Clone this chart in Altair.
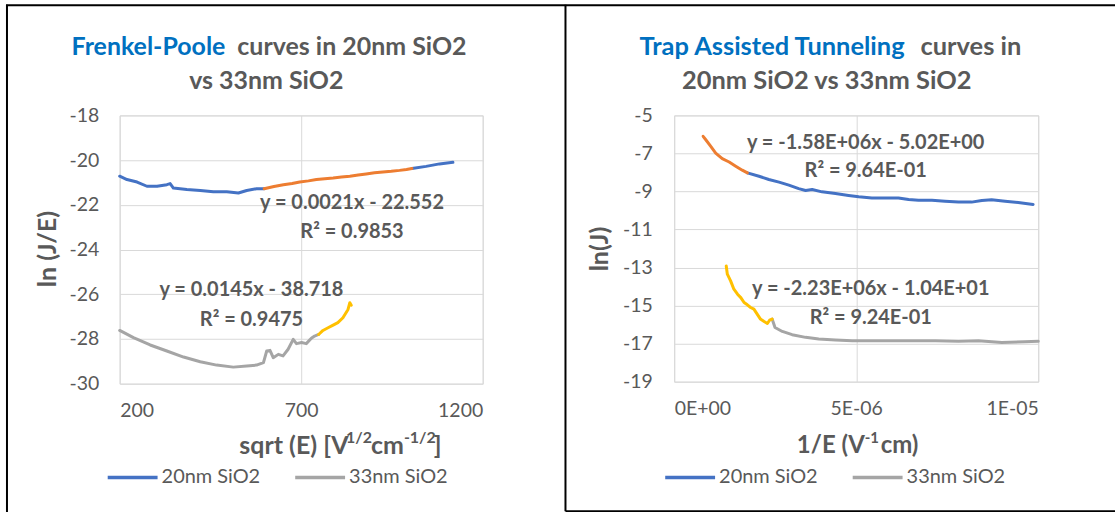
import altair as alt
import pandas as pd

FONT = "Lato"
GRAY_TEXT = "#595959"
TITLE_BLUE = "#0070C0"

SERIES = ["20nm SiO2", "33nm SiO2", "20nm fit range", "33nm fit range"]
SERIES_COLORS = ["#4472C4", "#A5A5A5", "#ED7D31", "#FFC000"]
LEGEND_ITEMS = ["20nm SiO2", "33nm SiO2"]

# ---- Frenkel-Poole panel: sqrt(E) vs ln(J/E) ----
fp20_a_x = [200, 220, 248, 275, 303, 330, 339, 348, 385, 422, 458, 495, 527, 550, 577, 598]
fp20_a_y = [-20.72, -20.87, -20.98, -21.17, -21.17, -21.10, -21.05, -21.25, -21.32, -21.36,
            -21.42, -21.42, -21.47, -21.36, -21.28, -21.28]
fp20_fit_x = [598, 625, 651, 675, 696, 720, 742, 765, 788, 811, 834, 857, 879, 902, 925, 948,
              971, 990, 1005]
fp20_fit_y = [-21.28, -21.18, -21.10, -21.05, -20.98, -20.93, -20.87, -20.83, -20.80, -20.76,
              -20.72, -20.67, -20.62, -20.57, -20.53, -20.50, -20.46, -20.42, -20.38]
fp20_b_x = [1005, 1044, 1081, 1118]
fp20_b_y = [-20.38, -20.28, -20.17, -20.10]

fp33_x = [200, 238, 284, 330, 376, 422, 467, 513, 550, 577, 596, 605, 614, 623, 637, 650, 664,
          678, 687, 701, 714, 728, 737, 748]
fp33_y = [-27.62, -27.94, -28.27, -28.54, -28.81, -29.02, -29.17, -29.26, -29.21, -29.17,
          -29.06, -28.54, -28.51, -28.84, -28.69, -28.76, -28.46, -28.02, -28.21, -28.16,
          -28.21, -27.97, -27.87, -27.80]
fp33_fit_x = [748, 760, 774, 788, 801, 815, 829, 834, 838]
fp33_fit_y = [-27.80, -27.62, -27.50, -27.38, -27.27, -27.05, -26.68, -26.38, -26.49]

fp_x_ticks = [200, 700, 1200]
fp_y_ticks = [-30, -28, -26, -24, -22, -20, -18]

fp_eq_text = ["y = 0.0021x - 22.552", "R² = 0.9853", "y = 0.0145x - 38.718", "R² = 0.9475"]
fp_eq_x = [840, 840, 563, 563]
fp_eq_y = [-21.93, -23.22, -25.81, -27.15]

# ---- Trap assisted tunneling panel: 1/E vs ln(J) ----
tat20_fit_x = [0.795e-6, 0.868e-6, 1.005e-6, 1.14e-6, 1.32e-6, 1.51e-6, 1.69e-6, 1.87e-6, 2.01e-6]
tat20_fit_y = [-6.10, -6.28, -6.63, -6.98, -7.27, -7.45, -7.67, -7.88, -8.02]
tat20_x = [2.01e-6, 2.33e-6, 2.60e-6, 2.88e-6, 3.15e-6, 3.42e-6, 3.61e-6, 3.79e-6, 4.06e-6,
           4.43e-6, 4.79e-6, 5.07e-6, 5.43e-6, 5.80e-6, 6.16e-6, 6.44e-6, 6.71e-6, 7.08e-6,
           7.44e-6, 7.81e-6, 8.17e-6, 8.45e-6, 8.72e-6, 9.09e-6, 9.45e-6, 9.86e-6]
tat20_y = [-8.02, -8.20, -8.37, -8.51, -8.67, -8.85, -8.95, -8.90, -9.02, -9.11, -9.21, -9.28,
           -9.34, -9.34, -9.34, -9.42, -9.46, -9.46, -9.51, -9.56, -9.56, -9.47, -9.44, -9.51,
           -9.58, -9.68]

tat33_fit_x = [1.43e-6, 1.46e-6, 1.55e-6, 1.64e-6, 1.74e-6, 1.83e-6, 1.92e-6, 2.01e-6, 2.10e-6,
               2.19e-6, 2.28e-6, 2.37e-6, 2.47e-6, 2.56e-6, 2.62e-6, 2.69e-6]
tat33_fit_y = [-12.92, -13.35, -13.70, -14.14, -14.40, -14.58, -14.84, -14.96, -15.10, -15.19,
               -15.45, -15.71, -15.84, -15.94, -15.77, -15.71]
tat33_x = [2.69e-6, 2.77e-6, 2.97e-6, 3.24e-6, 3.61e-6, 3.97e-6, 4.43e-6, 4.89e-6, 5.34e-6,
           5.80e-6, 6.44e-6, 7.17e-6, 7.81e-6, 8.36e-6, 9.00e-6, 9.63e-6, 10.0e-6]
tat33_y = [-15.71, -16.15, -16.36, -16.53, -16.67, -16.76, -16.81, -16.85, -16.85, -16.85,
           -16.85, -16.85, -16.88, -16.85, -16.94, -16.90, -16.88]

tat_x_ticks = [0, 5e-6, 1e-5]
tat_x_labels = ["0E+00", "5E-06", "1E-05"]
tat_y_ticks = [-19, -17, -15, -13, -11, -9, -7, -5]

tat_eq_text = ["y = -1.58E+06x - 5.02E+00", "R² = 9.64E-01",
               "y = -2.23E+06x - 1.04E+01", "R² = 9.24E-01"]
tat_eq_x = [5.26e-6, 5.26e-6, 5.40e-6, 5.40e-6]
tat_eq_y = [-6.47, -7.94, -14.12, -15.64]

# plot-area sizes (px)
FP_W, FP_H = 364, 269
TAT_W, TAT_H = 365, 267
GAP = 192  # between the two plot areas


def segments(parts):
    rows = []
    for seg, (series, xs, ys) in enumerate(parts):
        for i, (x, y) in enumerate(zip(xs, ys)):
            rows.append({"x": x, "y": y, "series": series, "seg": seg, "i": i})
    return pd.DataFrame(rows)


fp_df = segments([
    ("20nm SiO2", fp20_a_x, fp20_a_y),
    ("20nm SiO2", fp20_b_x, fp20_b_y),
    ("33nm SiO2", fp33_x, fp33_y),
    ("20nm fit range", fp20_fit_x, fp20_fit_y),
    ("33nm fit range", fp33_fit_x, fp33_fit_y),
])
tat_df = segments([
    ("20nm SiO2", tat20_x, tat20_y),
    ("33nm SiO2", tat33_x, tat33_y),
    ("20nm fit range", tat20_fit_x, tat20_fit_y),
    ("33nm fit range", tat33_fit_x, tat33_fit_y),
])

ONE = pd.DataFrame({"k": [0]})


def text_at(text, x, y, size, color=GRAY_TEXT, bold=True, align="center", angle=None):
    kw = dict(text=text, font=FONT, fontSize=size, color=color,
              fontWeight="bold" if bold else "normal", align=align, baseline="middle")
    if angle is not None:
        kw["angle"] = angle
    return alt.Chart(ONE).mark_text(**kw).encode(x=alt.value(x), y=alt.value(y))


def rule_at(x, y, x2, y2, color="black", width=2):
    return alt.Chart(ONE).mark_rule(color=color, strokeWidth=width).encode(
        x=alt.value(x), y=alt.value(y), x2=alt.value(x2), y2=alt.value(y2))


def axis(values, label_expr, padding):
    return alt.Axis(values=values, tickCount=len(values) + 4, labelExpr=label_expr, title=None,
                    grid=True, gridColor="#D9D9D9", gridWidth=1, domain=False, ticks=False,
                    tickSize=0, labelFont=FONT, labelFontSize=19.5, labelColor=GRAY_TEXT,
                    labelPadding=padding, labelOverlap=False, labelBound=False)


def panel(df, x_domain, y_domain, x_axis, y_axis, legend_x, legend_y, eq_df, extras, w, h):
    color = alt.Color(
        "series:N",
        scale=alt.Scale(domain=SERIES, range=SERIES_COLORS),
        legend=alt.Legend(values=LEGEND_ITEMS, title=None, orient="none",
                          legendX=legend_x, legendY=legend_y, direction="horizontal",
                          symbolType="stroke", symbolSize=2500, symbolStrokeWidth=3.5,
                          labelFont=FONT, labelFontSize=20, labelColor=GRAY_TEXT,
                          labelOffset=2, columnPadding=28, padding=0, symbolOffset=0),
    )
    x_enc = alt.X("x:Q", scale=alt.Scale(domain=x_domain, nice=False, zero=False), axis=x_axis)
    y_enc = alt.Y("y:Q", scale=alt.Scale(domain=y_domain, nice=False, zero=False), axis=y_axis)
    lines = alt.Chart(df).mark_line(strokeWidth=3, strokeJoin="round", strokeCap="round").encode(
        x=x_enc, y=y_enc, color=color, detail="seg:N", order="i:Q")
    eqs = alt.Chart(eq_df).mark_text(font=FONT, fontSize=20, fontWeight="bold",
                                     color=GRAY_TEXT, baseline="middle").encode(
        x="x:Q", y="y:Q", text="t:N")
    return alt.layer(lines, eqs, *extras).properties(width=w, height=h)


fp_eq = pd.DataFrame({"t": fp_eq_text, "x": fp_eq_x, "y": fp_eq_y})
tat_eq = pd.DataFrame({"t": tat_eq_text, "x": tat_eq_x, "y": tat_eq_y})

num_expr = "'' + datum.value"
tat_x_expr = " : ".join(
    f"datum.value < {v * 1.5 if v else 1e-9} ? '{lab}'" for v, lab in zip(tat_x_ticks[:-1], tat_x_labels[:-1])
) + f" : '{tat_x_labels[-1]}'"

# frame and annotation layers, positioned relative to each plot area's origin
FULL_RIGHT = FP_W + GAP + TAT_W + 77
fp_extras = [
    # invisible canvas that fixes the overall page bounds
    alt.Chart(ONE).mark_rect(opacity=0).encode(
        x=alt.value(-119), x2=alt.value(FULL_RIGHT), y=alt.value(-114), y2=alt.value(398)),
    rule_at(-113, -111, -113, 398),
    rule_at(-114, -110.5, FULL_RIGHT, -110.5),
    rule_at(447, -111, 447, 397),
    rule_at(447, 397, FULL_RIGHT, 397),
    text_at("Frenkel-Poole", 106, -69, 25, color=TITLE_BLUE, align="right"),
    text_at("curves in 20nm SiO2", 118, -69, 25, align="left"),
    text_at("vs 33nm SiO2", 147, -34, 25),
    text_at("ln (J/E)", -72, 134, 25, angle=270),
    text_at("sqrt (E) [V", 120, 332, 25, align="left"),
    text_at("1/2", 227, 323, 16, align="left"),
    text_at("cm", 252, 332, 25, align="left"),
    text_at("-1/2", 285, 323, 16, align="left"),
    text_at("]", 315, 332, 25, align="left"),
]
tat_extras = [
    text_at("Trap Assisted Tunneling", 231, -69, 25.5, color=TITLE_BLUE, align="right"),
    text_at("curves in", 247, -69, 25.5, align="left"),
    text_at("20nm SiO2 vs 33nm SiO2", 153, -34, 25.5),
    text_at("ln(J)", -74, 134, 25, angle=270),
    text_at("1/E (V", 123, 332, 24, align="left"),
    text_at("-1", 191, 323, 15, align="left"),
    text_at("cm)", 207, 332, 24, align="left"),
]

fp_chart = panel(fp_df, [200, 1200], [-30, -18],
                 axis(fp_x_ticks, num_expr, 18), axis(fp_y_ticks, num_expr, 21),
                 -14, 336, fp_eq, fp_extras, FP_W, FP_H)
tat_chart = panel(tat_df, [0, 1e-5], [-19, -5],
                  axis(tat_x_ticks, tat_x_expr, 18), axis(tat_y_ticks, num_expr, 22),
                  -11, 336, tat_eq, tat_extras, TAT_W, TAT_H)

chart = alt.hconcat(fp_chart, tat_chart, spacing=GAP, bounds="flush").resolve_scale(
    color="independent"
).properties(
    padding=0,
    background="white",
).configure_view(
    stroke="#D9D9D9", strokeWidth=1
)

chart.save("out.html", embed_options={"renderer": "svg", "actions": False})
